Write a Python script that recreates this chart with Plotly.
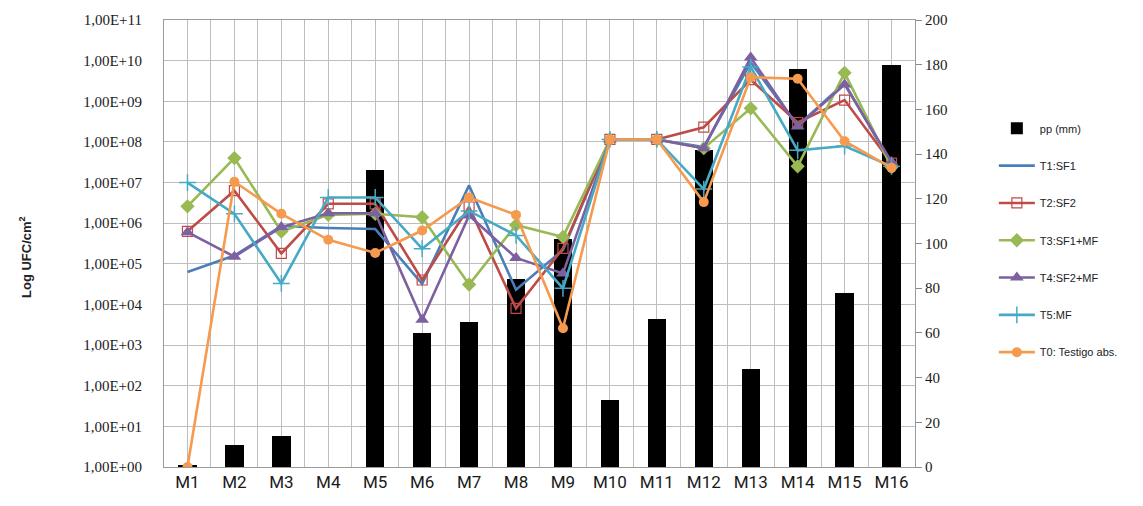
import plotly.graph_objects as go

# Sampling points
categories = ["M1", "M2", "M3", "M4", "M5", "M6", "M7", "M8",
              "M9", "M10", "M11", "M12", "M13", "M14", "M15", "M16"]

# Rainfall (mm), right axis
pp_mm = [0.6, 10, 14, 0, 133, 60, 65, 84, 102, 30, 66, 142, 44, 178, 78, 180]

# Bacterial counts (UFC/cm2), left log axis
t1_sf1 = [6.3e4, 1.6e5, 8.5e5, 7.6e5, 7.2e5, 3.2e4, 8.5e6, 2.3e4,
          2.2e5, 1.15e8, 1.15e8, 7.5e7, 9.0e9, 2.5e8, 2.8e9, 2.8e7]
t2_sf2 = [6.3e5, 6.3e6, 1.8e5, 3.0e6, 3.0e6, 4.0e4, 2.5e6, 8.0e3,
          2.4e5, 1.15e8, 1.15e8, 2.3e8, 3.4e9, 3.0e8, 1.07e9, 3.0e7]
t3_sf1_mf = [2.6e6, 4.0e7, 6.2e5, 1.6e6, 1.7e6, 1.4e6, 3.1e4, 9.0e5,
             4.6e5, 1.15e8, 1.15e8, 7.0e7, 6.7e8, 2.5e7, 5.0e9, 2.4e7]
t4_sf2_mf = [6.0e5, 1.5e5, 8.0e5, 1.75e6, 1.75e6, 4.2e3, 1.55e6, 1.4e5,
             5.8e4, 1.15e8, 1.15e8, 7.0e7, 1.2e10, 2.4e8, 2.6e9, 3.2e7]
t5_mf = [1.0e7, 1.7e6, 3.3e4, 4.3e6, 4.3e6, 2.35e5, 2.0e6, 5.0e5,
         2.5e4, 1.15e8, 1.15e8, 6.9e6, 7.0e9, 6.2e7, 7.9e7, 2.5e7]
t0_testigo = [1.0, 1.05e7, 1.7e6, 3.9e5, 1.85e5, 6.6e5, 4.3e6, 1.6e6,
              2.6e3, 1.15e8, 1.15e8, 3.3e6, 3.9e9, 3.6e9, 1.04e8, 2.3e7]

log_ticks = [10 ** k for k in range(12)]
log_labels = ["1,00E+%02d" % k for k in range(12)]
pp_ticks = list(range(0, 201, 20))

x_pos = list(range(1, len(categories) + 1))
# extra grid lines on the category boundaries
x_bounds = [i + 0.5 for i in range(0, len(categories) + 1)]

GRID = "#BDBDBD"
TICK_FONT = dict(family="Liberation Serif", size=15, color="#1a1a1a")

fig = go.Figure()

fig.add_trace(go.Bar(
    x=x_pos, y=pp_mm, name="pp (mm)", yaxis="y",
    marker=dict(color="black", line=dict(width=0)), width=0.39,
    legendgroup="pp",
))

series = [
    ("T1:SF1", t1_sf1, "#4A7EBB", dict(size=1, opacity=0)),
    ("T2:SF2", t2_sf2, "#BE4B48", dict(symbol="square-open", size=10,
                                        line=dict(width=1.2, color="#BE4B48"))),
    ("T3:SF1+MF", t3_sf1_mf, "#98B954", dict(symbol="diamond", size=11)),
    ("T4:SF2+MF", t4_sf2_mf, "#7D60A0", dict(symbol="triangle-up", size=12)),
    ("T5:MF", t5_mf, "#46AAC5", dict(symbol="cross-thin", size=12,
                                      line=dict(width=1.5, color="#46AAC5"))),
    ("T0: Testigo abs.", t0_testigo, "#F59A4E", dict(symbol="circle", size=10)),
]

for name, vals, color, mk in series:
    mk = dict(mk)
    mk.setdefault("color", color)
    fig.add_trace(go.Scatter(
        x=x_pos, y=vals, name=name, yaxis="y2",
        mode="lines+markers",
        line=dict(color=color, width=2.6),
        marker=mk, legendgroup=name,
    ))

fig.update_layout(
    width=1143, height=506,
    margin=dict(l=164, r=228, t=16, b=39),
    paper_bgcolor="white", plot_bgcolor="white",
    bargap=0,
    xaxis=dict(
        range=[0.5, 16.5], tickmode="array",
        tickvals=x_pos, ticktext=categories,
        showgrid=True, gridcolor=GRID, gridwidth=1,
        minor=dict(tickmode="array", tickvals=x_bounds, showgrid=True,
                   gridcolor=GRID, gridwidth=1, ticks=""),
        showline=True, linecolor="#9A9A9A", mirror=True,
        ticks="", zeroline=False,
        tickfont=dict(family="Liberation Sans Narrow, Roboto, sans-serif", size=17, color="#1a1a1a"),
    ),
    yaxis=dict(
        side="right", range=[0, 200],
        tickmode="array", tickvals=pp_ticks,
        ticktext=[str(v) for v in pp_ticks],
        showgrid=False, zeroline=False,
        ticks="outside", ticklen=6, tickcolor="#8A8A8A",
        showline=True, linecolor="#9A9A9A",
        tickfont=TICK_FONT,
    ),
    yaxis2=dict(
        type="log", range=[0, 11], overlaying="y", side="left",
        tickmode="array", tickvals=log_ticks, ticktext=log_labels,
        showgrid=True, gridcolor=GRID, gridwidth=1,
        zeroline=False, showline=True, linecolor="#9A9A9A",
        ticks="outside", ticklen=18, tickcolor="rgba(0,0,0,0)",
        tickfont=TICK_FONT,
    ),
    legend=dict(
        x=1.105, y=0.79, xanchor="left", yanchor="top",
        font=dict(family="Liberation Sans, Arial, sans-serif", size=11, color="#222"),
        tracegroupgap=18.3, itemwidth=36,
        bgcolor="rgba(0,0,0,0)",
    ),
    showlegend=True,
    annotations=[dict(
        text="<b>Log UFC/cm<sup>2</sup></b>", textangle=-90,
        xref="paper", yref="paper", x=-0.185, y=0.47,
        xanchor="center", yanchor="middle", showarrow=False,
        font=dict(family="Liberation Sans, Arial, sans-serif", size=13, color="#222"),
    )],
)

fig.write_html("out.html")
